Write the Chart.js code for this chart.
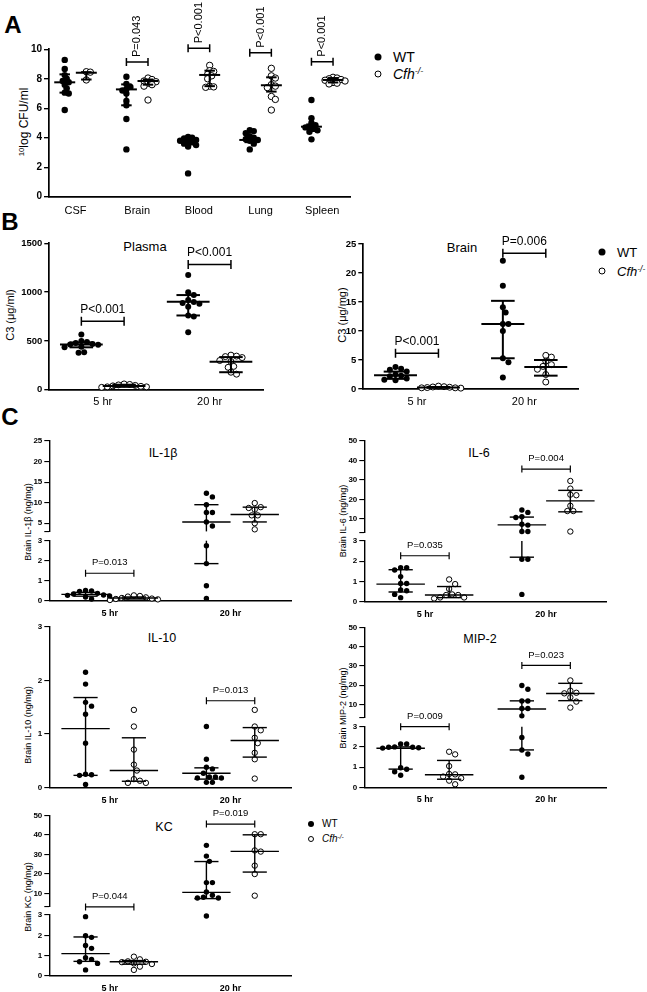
<!DOCTYPE html>
<html><head><meta charset="utf-8">
<script src="https://cdn.jsdelivr.net/npm/chart.js@4"></script>
<style>
body{margin:0;width:647px;height:992px;position:relative;background:#fff;font-family:"Liberation Sans",Arial,sans-serif;overflow:hidden;color:#000}
canvas{position:absolute}
.t{position:absolute;white-space:nowrap;line-height:1;transform:translate(-50%,-50%)}
.r{transform:translate(-50%,-50%) rotate(-90deg)}
.l{position:absolute;white-space:nowrap;line-height:1;transform:translate(0,-50%)}
.dot{position:absolute;border-radius:50%;background:#000;transform:translate(-50%,-50%)}
.ring{position:absolute;border-radius:50%;background:#fff;border:1px solid #000;box-sizing:border-box;transform:translate(-50%,-50%)}
.letter{font-weight:bold;font-size:24px}
sup{font-size:65%;vertical-align:0;position:relative;top:-0.5em}
</style></head><body>

<div class="t letter" style="left:13px;top:25px">A</div>
<div class="t letter" style="left:10px;top:222px">B</div>
<div class="t letter" style="left:10px;top:417px">C</div>

<div class="t r" style="left:24px;top:122px;font-size:12px"><sup>10</sup>log CFU/ml</div>
<div class="t r" style="left:10px;top:315px;font-size:11px">C3 (μg/ml)</div>
<div class="t r" style="left:342px;top:315px;font-size:11px">C3 (μg/mg)</div>
<div class="t r" style="left:28px;top:522px;font-size:9px">Brain IL-1β (ng/mg)</div>
<div class="t r" style="left:343px;top:521px;font-size:9px">Brain IL-6 (ng/mg)</div>
<div class="t r" style="left:28px;top:725px;font-size:9px">Brain IL-10 (ng/mg)</div>
<div class="t r" style="left:343px;top:708px;font-size:9px">Brain MIP-2 (ng/mg)</div>
<div class="t r" style="left:28px;top:897px;font-size:9px">Brain KC (ng/mg)</div>

<div class="t" style="left:145px;top:246px;font-size:13px">Plasma</div>
<div class="t" style="left:462px;top:247px;font-size:13px">Brain</div>
<div class="t" style="left:163px;top:453px;font-size:12.5px">IL-1β</div>
<div class="t" style="left:479px;top:453px;font-size:12.5px">IL-6</div>
<div class="t" style="left:162px;top:638px;font-size:12.5px">IL-10</div>
<div class="t" style="left:480px;top:639px;font-size:12.5px">MIP-2</div>
<div class="t" style="left:164px;top:827px;font-size:12.5px">KC</div>

<div class="dot" style="left:378px;top:57px;width:7px;height:7px"></div>
<div class="l" style="left:393px;top:57px;font-size:14px">WT</div>
<div class="ring" style="left:378px;top:74px;width:7px;height:7px"></div>
<div class="l" style="left:393px;top:74px;font-size:14px"><i>Cfh<sup>-/-</sup></i></div>

<div class="dot" style="left:602px;top:252px;width:7px;height:7px"></div>
<div class="l" style="left:617px;top:252px;font-size:13px">WT</div>
<div class="ring" style="left:602px;top:271px;width:7px;height:7px"></div>
<div class="l" style="left:617px;top:271px;font-size:13px"><i>Cfh<sup>-/-</sup></i></div>

<div class="dot" style="left:311px;top:824px;width:6px;height:6px"></div>
<div class="l" style="left:322px;top:824px;font-size:10px">WT</div>
<div class="ring" style="left:311px;top:839px;width:6px;height:6px"></div>
<div class="l" style="left:322px;top:839px;font-size:10px"><i>Cfh<sup>-/-</sup></i></div>

<script>
// ================= DATA =================
// Panel A: bacterial load
const catsA = ['CSF', 'Brain', 'Blood', 'Lung', 'Spleen'];
const ticksA = [0, 2, 4, 6, 8, 10];
const wtA = [
  [9.28, 8.67, 8.25, 8.0, 7.85, 7.76, 7.6, 7.35, 7.06, 7.0, 5.88],
  [8.14, 7.65, 7.45, 7.3, 7.2, 7.0, 6.5, 6.2, 5.27, 3.21],
  [4.05, 4.0, 3.95, 3.85, 3.8, 3.75, 3.7, 3.6, 3.5, 3.4, 1.58],
  [4.52, 4.45, 4.3, 4.1, 4.0, 3.9, 3.85, 3.8, 3.6, 3.21],
  [6.56, 5.32, 5.0, 4.85, 4.75, 4.7, 4.6, 4.5, 4.4, 3.89]
];
const cfhA = [
  [8.48, 8.45, 7.92],
  [8.05, 7.95, 7.85, 7.8, 7.7, 7.6, 7.5, 6.56],
  [8.91, 8.55, 8.5, 8.3, 8.2, 8.0, 7.5, 7.45, 7.42],
  [8.71, 8.2, 8.05, 7.6, 7.5, 7.4, 6.8, 6.6, 5.88],
  [8.1, 8.05, 8.0, 7.95, 7.9, 7.85, 7.75, 7.7, 7.65]
];
const wtMedA = [7.76, 7.28, 3.78, 3.85, 4.75];
const wtQ1A = [7.06, 6.2, 3.55, 3.7, 4.6];
const wtQ3A = [8.3, 7.62, 3.95, 4.1, 4.9];
const cfhMedA = [8.41, 7.85, 8.26, 7.56, 7.92];
const cfhQ1A = [7.95, 7.6, 7.5, 7.13, 7.75];
const cfhQ3A = [8.45, 7.95, 8.55, 8.1, 8.05];
const pTextA = ['', 'P=0.043', 'P<0.001', 'P<0.001', 'P<0.001'];
const pLevelA = [null, 9.14, 10.07, 9.77, 9.16];

// shared time categories
const timeCats = ['5 hr', '20 hr'];

// Panel B: C3 plasma
const ticksPlasma = [0, 500, 1000, 1500];
const wtPlasma = [[565, 500, 490, 480, 470, 465, 460, 440, 435, 385, 380],
                  [1175, 1000, 970, 920, 900, 890, 880, 850, 760, 750, 589]];
const cfhPlasma = [[60, 55, 50, 45, 40, 35, 30, 30, 25],
                   [355, 345, 340, 330, 300, 290, 240, 230, 180, 160]];
const wtMedPlasma = [465, 902], wtQ1Plasma = [435, 761], wtQ3Plasma = [485, 970];
const cfhMedPlasma = [40, 287], cfhQ1Plasma = [30, 180], cfhQ3Plasma = [52, 335];
const pTextPlasma = ['P<0.001', 'P<0.001'], pLevelPlasma = [702, 1284];

// Panel B: C3 brain
const ticksC3Brain = [0, 5, 10, 15, 20, 25];
const wtC3Brain = [[3.8, 3.5, 3.3, 3.0, 2.5, 2.3, 2.2, 1.8, 1.6, 1.5],
                   [22.1, 17.8, 14.1, 13.2, 11.2, 11.2, 10.0, 5.3, 4.6, 2.0]];
const cfhC3Brain = [[0.5, 0.4, 0.35, 0.3, 0.25, 0.2, 0.2, 0.15],
                    [5.8, 5.5, 4.8, 4.2, 3.9, 3.4, 2.5, 1.2]];
const wtMedC3Brain = [2.35, 11.2], wtQ1C3Brain = [1.75, 5.3], wtQ3C3Brain = [3.0, 15.2];
const cfhMedC3Brain = [0.27, 3.8], cfhQ1C3Brain = [0.2, 2.3], cfhQ3C3Brain = [0.35, 5.0];
const pTextC3Brain = ['P<0.001', 'P=0.006'], pLevelC3Brain = [6.15, 23.4];

// Panel C: broken axes (lower 0-3, upper 3-max)
const lowerTicks = [0, 1, 2, 3];
const upperTicks25 = [3, 5, 10, 15, 20, 25];
const upperTicks50 = [3, 10, 20, 30, 40, 50];

const wtIL1b = [[0.52, 0.5, 0.48, 0.38, 0.35, 0.3, 0.28, 0.25, 0.2, 0.1],
                [12.3, 11.4, 9.5, 7.6, 7.6, 5.3, 4.3, 2.75, 1.86, 0.76, 0.13]];
const cfhIL1b = [[0.28, 0.25, 0.22, 0.18, 0.15, 0.12, 0.1, 0.08, 0.05],
                 [9.9, 8.9, 8.7, 8.3, 6.9, 6.9, 5.0, 3.5]];
const wtMedIL1b = [0.33, 5.3], wtQ1IL1b = [0.24, 1.86], wtQ3IL1b = [0.43, 9.5];
const cfhMedIL1b = [0.15, 7.1], cfhQ1IL1b = [0.1, 5.3], cfhQ3IL1b = [0.2, 8.9];
const pTextIL1b = ['P=0.013', ''], pLevelIL1b = [1.38, null];

const wtIL6 = [[1.68, 1.68, 1.57, 1.24, 0.9, 0.9, 0.58, 0.54, 0.36, 0.2],
               [14.6, 13.4, 11.2, 10.8, 7.3, 6.9, 3.6, 3.6, 2.1, 2.1, 0.36]];
const cfhIL6 = [[1.1, 0.87, 0.63, 0.36, 0.33, 0.33, 0.21, 0.21, 0.16],
                [29.5, 25.6, 22.5, 22.2, 16.8, 14.1, 14.1, 3.6]];
const wtMedIL6 = [0.87, 7.0], wtQ1IL6 = [0.48, 2.2], wtQ3IL6 = [1.58, 11.0];
const cfhMedIL6 = [0.33, 19.3], cfhQ1IL6 = [0.2, 13.7], cfhQ3IL6 = [0.75, 24.7];
const pTextIL6 = ['P=0.035', 'P=0.004'], pLevelIL6 = [2.27, 35.6];

const ticksIL10 = [0, 1, 2, 3];
const wtIL10 = [[2.15, 1.93, 1.59, 1.52, 1.37, 0.83, 0.25, 0.24, 0.23, 0.06],
                [1.14, 0.53, 0.38, 0.35, 0.27, 0.2, 0.2, 0.18, 0.18, 0.1, 0.1]];
const cfhIL10 = [[1.45, 1.14, 0.71, 0.43, 0.32, 0.16, 0.13, 0.09, 0.09],
                 [1.45, 1.14, 1.07, 0.93, 0.83, 0.65, 0.53, 0.17]];
const wtMedIL10 = [1.1, 0.27], wtQ1IL10 = [0.23, 0.16], wtQ3IL10 = [1.68, 0.37];
const cfhMedIL10 = [0.32, 0.88], cfhQ1IL10 = [0.12, 0.57], cfhQ3IL10 = [0.93, 1.12];
const pTextIL10 = ['', 'P=0.013'], pLevelIL10 = [null, 1.62];

const wtMIP2 = [[2.14, 2.14, 2.0, 1.98, 1.98, 1.96, 1.94, 0.97, 0.89, 0.77, 0.6],
                [19.8, 17.8, 11.7, 11.7, 7.8, 7.8, 4.0, 2.47, 1.85, 1.65, 0.5]];
const cfhMIP2 = [[1.76, 1.63, 1.05, 0.66, 0.64, 0.53, 0.45, 0.33, 0.15],
                 [22.4, 17.1, 16.0, 15.7, 13.6, 11.4, 8.3]];
const wtMedMIP2 = [1.93, 7.6], wtQ1MIP2 = [0.9, 1.85], wtQ3MIP2 = [2.0, 11.8];
const cfhMedMIP2 = [0.62, 15.6], cfhQ1MIP2 = [0.4, 11.9], cfhQ3MIP2 = [1.33, 20.9];
const pTextMIP2 = ['P=0.009', 'P=0.023'], pLevelMIP2 = [3.0, 30.2];

const wtKC = [[2.92, 1.98, 1.9, 1.5, 1.36, 0.9, 0.82, 0.7, 0.62, 0.3],
              [34.6, 29.1, 26.4, 15.5, 15.5, 10.7, 9.0, 8.0, 7.6, 7.6, 2.95]];
const cfhKC = [[0.95, 0.82, 0.72, 0.7, 0.68, 0.62, 0.59, 0.46, 0.3],
               [40.3, 40.3, 32.0, 31.4, 24.2, 19.9, 8.8]];
const wtMedKC = [1.1, 10.5], wtQ1KC = [0.72, 7.3], wtQ3KC = [1.92, 26.3];
const cfhMedKC = [0.7, 31.5], cfhQ1KC = [0.58, 20.9], cfhQ3KC = [0.76, 40.0];
const pTextKC = ['P=0.044', 'P=0.019'], pLevelKC = [3.05, 45.5];

// ================= BUILDER =================
const FAM = '"Liberation Sans", Arial, sans-serif';
const BREAK = 3;

function build(P) {
  const [L, T, W, H] = P.rect;
  const [al, at, ar, ab] = P.area;
  const cv = document.createElement('canvas');
  cv.width = W; cv.height = H;
  cv.style.left = L + 'px'; cv.style.top = T + 'px';
  cv.style.width = W + 'px'; cv.style.height = H + 'px';
  document.body.appendChild(cv);
  const yW = al - L, xH = T + H - ab, padTop = at - T, padRight = L + W - ar;
  const broken = P.segs.length > 1;

  function yScale(seg, extra) {
    return Object.assign({
      type: 'linear', position: 'left', min: seg.min, max: seg.max,
      afterBuildTicks: s => { s.ticks = seg.ticks.map(v => ({ value: v })); },
      afterFit: s => { s.width = yW; },
      ticks: { font: { family: FAM, size: P.tickSize, weight: 'bold' }, color: '#000', padding: 2, autoSkip: false,
               callback: v => (broken && seg === P.segs[0] && v === BREAK) ? '' : String(v) },
      grid: { display: true, drawOnChartArea: false, drawTicks: true, tickLength: 5, color: '#000', lineWidth: P.axisW * 0.8 },
      border: { display: true, color: '#000', width: P.axisW }
    }, extra || {});
  }

  const scales = {
    x: {
      type: 'linear', min: P.xmin, max: P.xmax,
      afterBuildTicks: s => { s.ticks = P.cats.map((c, i) => ({ value: i + 1 })); },
      afterFit: s => { s.height = xH; },
      ticks: { font: { family: FAM, size: P.catSize, weight: P.catWeight }, color: '#000', padding: P.catPad,
               autoSkip: false, maxRotation: 0, minRotation: 0, callback: v => P.cats[v - 1] || '' },
      grid: { display: false, drawTicks: false },
      border: { display: true, color: '#000', width: P.axisW }
    }
  };
  if (!broken) {
    scales.y = yScale(P.segs[0]);
  } else {
    const up = P.segs[0], lo = P.segs[1];
    scales.yU = yScale(up, { stack: 'st', stackWeight: up.bottom - up.top, weight: 3 });
    scales.yG = { type: 'linear', position: 'left', min: 0, max: 1, stack: 'st', stackWeight: lo.top - up.bottom, weight: 2,
                  afterFit: s => { s.width = yW; }, grid: { display: false, drawTicks: false },
                  ticks: { display: false }, border: { display: false } };
    scales.y = yScale(lo, { stack: 'st', stackWeight: lo.bottom - lo.top, weight: 1 });
  }

  const axisOf = v => (broken && v > BREAK) ? 'yU' : 'y';
  const datasets = [];
  [[P.wt, -P.off, true], [P.cfh, P.off, false]].forEach(([ser, off, filled], si) => {
    const ids = broken ? ['y', 'yU'] : ['y'];
    ids.forEach(id => {
      const data = [];
      ser.forEach((vals, c) => vals.forEach(v => {
        if (axisOf(v) === id) data.push({ x: c + 1 + off, y: v, bx: c + 1 + off, c: c });
      }));
      datasets.push({
        type: 'scatter', series: si, yAxisID: id, data: data, clip: false,
        pointRadius: P.r, pointHoverRadius: P.r, pointStyle: 'circle',
        pointBackgroundColor: filled ? '#000' : '#fff', pointBorderColor: '#000',
        pointBorderWidth: filled ? 0 : P.ringW, showLine: false
      });
    });
  });

  const plugin = {
    id: 'stats',
    afterDatasetsDraw(chart) {
      const ctx = chart.ctx, xs = chart.scales.x;
      const yp = v => chart.scales[axisOf(v)].getPixelForValue(v);
      ctx.save();
      ctx.strokeStyle = '#000'; ctx.lineWidth = P.lw; ctx.lineCap = 'butt';
      const seg = (x1, y1, x2, y2) => { ctx.beginPath(); ctx.moveTo(x1, y1); ctx.lineTo(x2, y2); ctx.stroke(); };
      const hline = (cx, v, half) => seg(xs.getPixelForValue(cx - half), yp(v), xs.getPixelForValue(cx + half), yp(v));
      const vline = (cx, a, b) => {
        const x = xs.getPixelForValue(cx);
        if (!broken) { seg(x, yp(a), x, yp(b)); return; }
        if (a < BREAK) seg(x, chart.scales.y.getPixelForValue(a), x, chart.scales.y.getPixelForValue(Math.min(b, BREAK)));
        if (b > BREAK) seg(x, chart.scales.yU.getPixelForValue(Math.max(a, BREAK)), x, chart.scales.yU.getPixelForValue(b));
      };
      [[P.wtMed, P.wtQ1, P.wtQ3, -P.off], [P.cfhMed, P.cfhQ1, P.cfhQ3, P.off]].forEach(([m, q1, q3, o]) => {
        m.forEach((mv, i) => {
          const cx = i + 1 + o;
          vline(cx, q1[i], q3[i]);
          hline(cx, mv, P.medHalf);
          hline(cx, q1[i], P.qHalf);
          hline(cx, q3[i], P.qHalf);
        });
      });
      ctx.restore();
    },
    afterDraw(chart) {
      const ctx = chart.ctx, xs = chart.scales.x;
      const yp = v => chart.scales[axisOf(v)].getPixelForValue(v);
      ctx.save();
      ctx.strokeStyle = '#000'; ctx.fillStyle = '#000'; ctx.lineWidth = P.brW;
      ctx.font = P.pSize + 'px ' + FAM;
      P.pText.forEach((txt, i) => {
        if (!txt) return;
        const x1 = xs.getPixelForValue(i + 1 - P.off), x2 = xs.getPixelForValue(i + 1 + P.off);
        const y = yp(P.pLevel[i]);
        ctx.beginPath();
        ctx.moveTo(x1, y); ctx.lineTo(x2, y);
        ctx.moveTo(x1, y - P.capH); ctx.lineTo(x1, y + P.capH);
        ctx.moveTo(x2, y - P.capH); ctx.lineTo(x2, y + P.capH);
        ctx.stroke();
        const cx = (x1 + x2) / 2;
        if (P.pRot) {
          ctx.save(); ctx.translate(cx, y - P.pGap); ctx.rotate(-Math.PI / 2);
          ctx.textAlign = 'left'; ctx.textBaseline = 'middle'; ctx.fillText(txt, 0, 0);
          ctx.restore();
        } else {
          ctx.textAlign = 'center'; ctx.textBaseline = 'middle';
          ctx.fillText(txt, cx, y - P.pGap);
        }
      });
      ctx.restore();
    }
  };

  const chart = new Chart(cv, {
    type: 'scatter',
    data: { datasets: datasets },
    options: {
      responsive: false, animation: false, devicePixelRatio: 1, events: [],
      layout: { padding: { top: padTop, right: padRight, left: 0, bottom: 0 } },
      plugins: { legend: { display: false }, tooltip: { enabled: false } },
      scales: scales
    },
    plugins: [plugin]
  });

  // beeswarm placement computed from the chart's own scales
  const xs = chart.scales.x;
  const ppu = xs.getPixelForValue(1) - xs.getPixelForValue(0);
  const groups = {};
  chart.data.datasets.forEach(ds => {
    const sc = chart.scales[ds.yAxisID];
    ds.data.forEach(p => {
      const k = ds.series + '_' + p.c;
      (groups[k] = groups[k] || []).push({ p: p, py: sc.getPixelForValue(p.y) });
    });
  });
  const d = P.swarmD, step = d / 2;
  Object.keys(groups).forEach(k => {
    const g = groups[k].sort((a, b) => a.py - b.py);
    const placed = [];
    g.forEach(o => {
      for (let i = 0; i < 60; i++) {
        const n = i === 0 ? 0 : (i % 2 ? Math.ceil(i / 2) : -Math.ceil(i / 2));
        const off = n * step;
        if (placed.every(q => (q.off - off) ** 2 + (q.py - o.py) ** 2 >= d * d - 0.01)) {
          o.off = off; placed.push(o); break;
        }
      }
      o.p.x = o.p.bx + o.off / ppu;
    });
  });
  chart.data.datasets.forEach(ds => { ds.data = ds.data.map(p => Object.assign({}, p)); });
  chart.update('none');
  return chart;
}

const styleA = { off: 0.175, medHalf: 0.17, qHalf: 0.085, r: 3.2, ringW: 1, lw: 2, axisW: 1.7, swarmD: 4,
                 capH: 4, brW: 1.5, tickSize: 10, catSize: 11, catWeight: 'normal', catPad: 8, pSize: 11, pRot: true, pGap: 5 };
const styleB = { off: 0.2, medHalf: 0.2, qHalf: 0.11, r: 3, ringW: 1, lw: 2, axisW: 1.7, swarmD: 5.6,
                 capH: 4.5, brW: 1.5, tickSize: 9.5, catSize: 11, catWeight: 'normal', catPad: 6, pSize: 12, pRot: false, pGap: 12 };
const styleC = { off: 0.2, medHalf: 0.2, qHalf: 0.1, r: 2.7, ringW: 1, lw: 1.4, axisW: 1.4, swarmD: 6,
                 capH: 3.5, brW: 1.2, tickSize: 8, catSize: 9, catWeight: 'bold', catPad: 7, pSize: 9.5, pRot: false, pGap: 10.5 };

build(Object.assign({}, styleA, {
  rect: [0, 0, 362, 224], area: [49, 49.3, 350, 196.7], xmin: 0.57, xmax: 5.45, cats: catsA,
  segs: [{ min: 0, max: 10, ticks: ticksA }],
  wt: wtA, cfh: cfhA, wtMed: wtMedA, wtQ1: wtQ1A, wtQ3: wtQ3A, cfhMed: cfhMedA, cfhQ1: cfhQ1A, cfhQ3: cfhQ3A,
  pText: pTextA, pLevel: pLevelA
}));
build(Object.assign({}, styleB, {
  rect: [0, 222, 290, 190], area: [49.3, 243.3, 263, 389.8], xmin: 0.5, xmax: 2.5, cats: timeCats,
  segs: [{ min: 0, max: 1500, ticks: ticksPlasma }],
  wt: wtPlasma, cfh: cfhPlasma, wtMed: wtMedPlasma, wtQ1: wtQ1Plasma, wtQ3: wtQ3Plasma,
  cfhMed: cfhMedPlasma, cfhQ1: cfhQ1Plasma, cfhQ3: cfhQ3Plasma, pText: pTextPlasma, pLevel: pLevelPlasma
}));
build(Object.assign({}, styleB, {
  rect: [330, 222, 270, 190], area: [363.3, 244, 578, 389], xmin: 0.5, xmax: 2.5, cats: timeCats,
  segs: [{ min: 0, max: 25, ticks: ticksC3Brain }],
  wt: wtC3Brain, cfh: cfhC3Brain, wtMed: wtMedC3Brain, wtQ1: wtQ1C3Brain, wtQ3: wtQ3C3Brain,
  cfhMed: cfhMedC3Brain, cfhQ1: cfhQ1C3Brain, cfhQ3: cfhQ3C3Brain, pText: pTextC3Brain, pLevel: pLevelC3Brain
}));
build(Object.assign({}, styleC, {
  rect: [0, 428, 300, 192], area: [49.3, 441, 291, 601], xmin: 0.5, xmax: 2.5, cats: timeCats,
  segs: [{ min: 3, max: 25, ticks: upperTicks25, top: 441, bottom: 531.4 }, { min: 0, max: 3, ticks: lowerTicks, top: 540.7, bottom: 601 }],
  wt: wtIL1b, cfh: cfhIL1b, wtMed: wtMedIL1b, wtQ1: wtQ1IL1b, wtQ3: wtQ3IL1b,
  cfhMed: cfhMedIL1b, cfhQ1: cfhQ1IL1b, cfhQ3: cfhQ3IL1b, pText: pTextIL1b, pLevel: pLevelIL1b
}));
build(Object.assign({}, styleC, {
  rect: [330, 428, 290, 192], area: [364.3, 441, 606.7, 601.7], xmin: 0.5, xmax: 2.5, cats: timeCats,
  segs: [{ min: 3, max: 50, ticks: upperTicks50, top: 441, bottom: 532.7 }, { min: 0, max: 3, ticks: lowerTicks, top: 541, bottom: 601.7 }],
  wt: wtIL6, cfh: cfhIL6, wtMed: wtMedIL6, wtQ1: wtQ1IL6, wtQ3: wtQ3IL6,
  cfhMed: cfhMedIL6, cfhQ1: cfhQ1IL6, cfhQ3: cfhQ3IL6, pText: pTextIL6, pLevel: pLevelIL6
}));
build(Object.assign({}, styleC, {
  rect: [0, 615, 300, 195], area: [49.3, 626.7, 291, 787.7], xmin: 0.5, xmax: 2.5, cats: timeCats,
  segs: [{ min: 0, max: 3, ticks: ticksIL10 }],
  wt: wtIL10, cfh: cfhIL10, wtMed: wtMedIL10, wtQ1: wtQ1IL10, wtQ3: wtQ3IL10,
  cfhMed: cfhMedIL10, cfhQ1: cfhQ1IL10, cfhQ3: cfhQ3IL10, pText: pTextIL10, pLevel: pLevelIL10
}));
build(Object.assign({}, styleC, {
  rect: [330, 615, 290, 195], area: [364.3, 627.3, 606.7, 787.3], xmin: 0.5, xmax: 2.5, cats: timeCats,
  segs: [{ min: 3, max: 50, ticks: upperTicks50, top: 627.3, bottom: 717.8 }, { min: 0, max: 3, ticks: lowerTicks, top: 726.7, bottom: 787.3 }],
  wt: wtMIP2, cfh: cfhMIP2, wtMed: wtMedMIP2, wtQ1: wtQ1MIP2, wtQ3: wtQ3MIP2,
  cfhMed: cfhMedMIP2, cfhQ1: cfhQ1MIP2, cfhQ3: cfhQ3MIP2, pText: pTextMIP2, pLevel: pLevelMIP2
}));
build(Object.assign({}, styleC, {
  rect: [0, 805, 300, 187], area: [49.3, 815.3, 291, 976], xmin: 0.5, xmax: 2.5, cats: timeCats,
  segs: [{ min: 3, max: 50, ticks: upperTicks50, top: 815.3, bottom: 907 }, { min: 0, max: 3, ticks: lowerTicks, top: 915, bottom: 976 }],
  wt: wtKC, cfh: cfhKC, wtMed: wtMedKC, wtQ1: wtQ1KC, wtQ3: wtQ3KC,
  cfhMed: cfhMedKC, cfhQ1: cfhQ1KC, cfhQ3: cfhQ3KC, pText: pTextKC, pLevel: pLevelKC
}));
</script>
</body></html>
